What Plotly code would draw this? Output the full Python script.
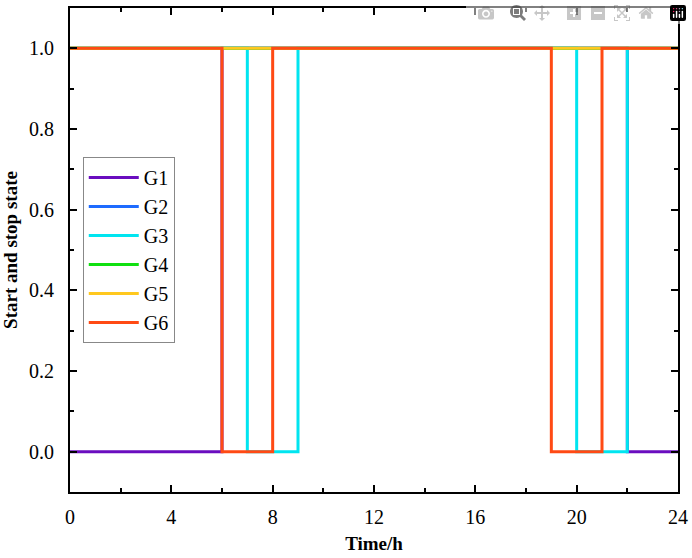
import plotly.graph_objects as go

# hourly on/off state of each unit, hours 0..24 (last point closes the step)
hours = [0, 1, 2, 3, 4, 5, 6, 7, 8, 9, 10, 11, 12, 13, 14, 15, 16, 17, 18, 19, 20, 21, 22, 23, 24]
g1 = [0, 0, 0, 0, 0, 0, 1, 1, 1, 1, 1, 1, 1, 1, 1, 1, 1, 1, 1, 1, 1, 1, 0, 0, 0]
g2 = [1, 1, 1, 1, 1, 1, 1, 1, 1, 1, 1, 1, 1, 1, 1, 1, 1, 1, 1, 1, 1, 1, 1, 1, 1]
g3 = [1, 1, 1, 1, 1, 1, 1, 0, 0, 1, 1, 1, 1, 1, 1, 1, 1, 1, 1, 1, 0, 0, 1, 1, 1]
g4 = [1, 1, 1, 1, 1, 1, 1, 1, 1, 1, 1, 1, 1, 1, 1, 1, 1, 1, 1, 1, 1, 1, 1, 1, 1]
g5 = [1, 1, 1, 1, 1, 1, 1, 1, 1, 1, 1, 1, 1, 1, 1, 1, 1, 1, 1, 1, 1, 1, 1, 1, 1]
g6 = [1, 1, 1, 1, 1, 1, 0, 0, 1, 1, 1, 1, 1, 1, 1, 1, 1, 1, 1, 0, 0, 1, 1, 1, 1]

names = ['G1', 'G2', 'G3', 'G4', 'G5', 'G6']
series = [g1, g2, g3, g4, g5, g6]
colors = ['#6A0DBF', '#1E6BFF', '#00E5F0', '#10E010', '#FFC81E', '#FF4A14']

fig = go.Figure()

for name, vals, col in zip(names, series, colors):
    fig.add_trace(
        go.Scatter(x=hours, y=vals, name=name, mode='lines', line_shape='hv',
                   line=dict(color=col, width=3))
    )

serif = 'Liberation Serif, Times New Roman, serif'
axis_common = dict(showline=True, linecolor='black', linewidth=2, mirror='ticks',
                   ticks='inside', ticklen=7, tickwidth=2, tickcolor='black',
                   showgrid=False, zeroline=False, automargin=False,
                   ticklabeloverflow='allow',
                   tickfont=dict(family=serif, size=20, color='black'))

fig.update_layout(
    width=692, height=558,
    margin=dict(l=70, r=14, t=8, b=66),
    plot_bgcolor='white', paper_bgcolor='white',
    xaxis=dict(range=[0, 24], tickvals=[0, 4, 8, 12, 16, 20, 24],
               minor=dict(tickvals=[2, 6, 10, 14, 18, 22], ticks='inside', ticklen=4,
                          tickwidth=2, tickcolor='black'),
               ticklabelstandoff=6,
               title=dict(text='<b>Time/h</b>', font=dict(family=serif, size=19, color='black'),
                          standoff=10),
               **axis_common),
    yaxis=dict(range=[-0.1, 1.1], tickvals=[0, 0.2, 0.4, 0.6, 0.8, 1.0], tickformat='.1f',
               minor=dict(tickvals=[0.1, 0.3, 0.5, 0.7, 0.9], ticks='inside', ticklen=4,
                          tickwidth=2, tickcolor='black'),
               ticklabelstandoff=10,
               title=dict(text='<b>Start and stop state</b>', font=dict(family=serif, size=19, color='black'),
                          standoff=6),
               **axis_common),
    legend=dict(x=0.021, y=0.692, xanchor='left', yanchor='top',
                bordercolor='#888888', borderwidth=1, bgcolor='white',
                font=dict(family=serif, size=20, color='black'),
                tracegroupgap=0, itemwidth=50),
    showlegend=True,
)

# drop the default page margin so the figure fills the window exactly
fig.write_html('out.html',
               post_script="document.body.style.margin='0';document.body.style.overflow='hidden';")
